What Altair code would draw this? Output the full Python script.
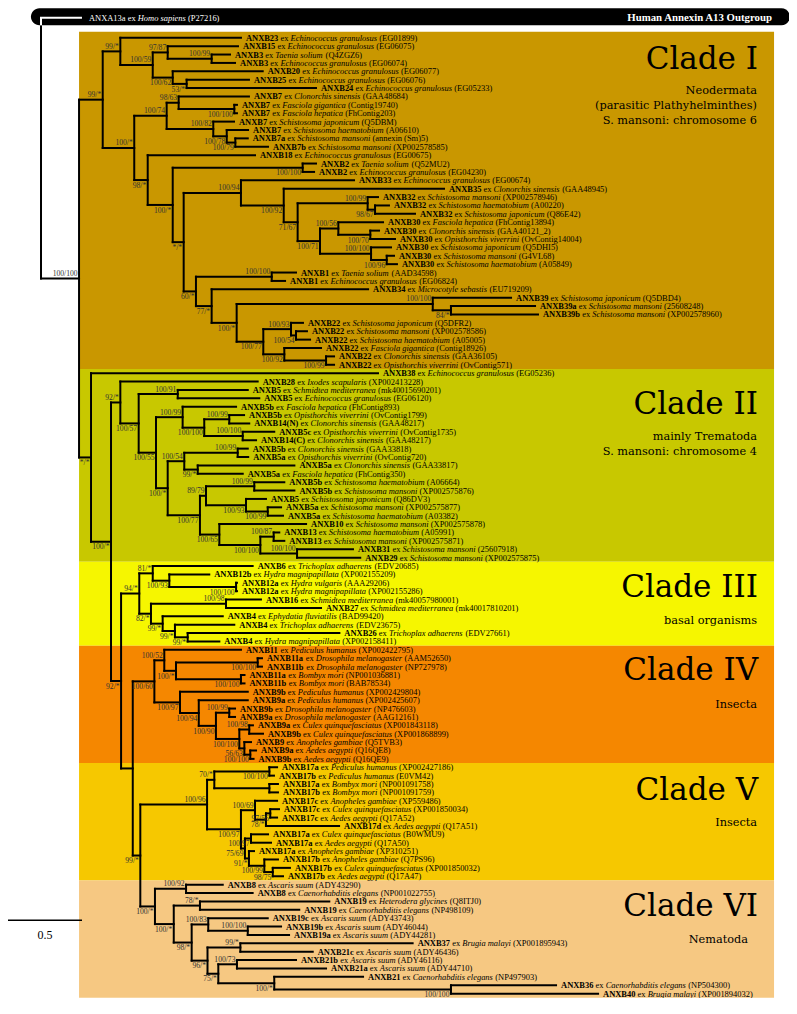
import altair as alt
import pandas as pd

# ---------------- data ----------------
LEAF_NAME = [
    "ANXB23", "ANXB15", "ANXB3", "ANXB3", "ANXB20", "ANXB25", "ANXB24", "ANXB7", "ANXB7", "ANXB7",
    "ANXB7", "ANXB7", "ANXB7a", "ANXB7b", "ANXB18", "ANXB2", "ANXB2", "ANXB33", "ANXB35", "ANXB32",
    "ANXB32", "ANXB32", "ANXB30", "ANXB30", "ANXB30", "ANXB30", "ANXB30", "ANXB30", "ANXB1", "ANXB1",
    "ANXB34", "ANXB39", "ANXB39a", "ANXB39b", "ANXB22", "ANXB22", "ANXB22", "ANXB22", "ANXB22", "ANXB22",
    "ANXB38", "ANXB28", "ANXB5", "ANXB5", "ANXB5b", "ANXB5b", "ANXB14(N)", "ANXB5c", "ANXB14(C)", "ANXB5b",
    "ANXB5a", "ANXB5a", "ANXB5a", "ANXB5b", "ANXB5b", "ANXB5", "ANXB5a", "ANXB5a", "ANXB10", "ANXB13",
    "ANXB13", "ANXB31", "ANXB29",
    "ANXB6", "ANXB12b", "ANXB12a", "ANXB12a", "ANXB16", "ANXB27", "ANXB4", "ANXB4", "ANXB26", "ANXB4",
    "ANXB11", "ANXB11a", "ANXB11b", "ANXB11a", "ANXB11b", "ANXB9b", "ANXB9a", "ANXB9b", "ANXB9a", "ANXB9a",
    "ANXB9b", "ANXB9", "ANXB9a", "ANXB9b",
    "ANXB17a", "ANXB17b", "ANXB17a", "ANXB17b", "ANXB17c", "ANXB17c", "ANXB17c", "ANXB17d", "ANXB17a", "ANXB17a",
    "ANXB17a", "ANXB17b", "ANXB17b", "ANXB17b",
    "ANXB8", "ANXB8", "ANXB19", "ANXB19", "ANXB19c", "ANXB19b", "ANXB19a", "ANXB37", "ANXB21c", "ANXB21b",
    "ANXB21a", "ANXB21", "ANXB36", "ANXB40",
]
LEAF_SPECIES = [
    "Echinococcus granulosus", "Echinococcus granulosus", "Taenia solium", "Echinococcus granulosus",
    "Echinococcus granulosus", "Echinococcus granulosus", "Echinococcus granulosus", "Clonorchis sinensis",
    "Fasciola gigantica", "Fasciola hepatica", "Schistosoma japonicum", "Schistosoma haematobium",
    "Schistosoma mansoni", "Schistosoma mansoni", "Echinococcus granulosus", "Taenia solium",
    "Echinococcus granulosus", "Echinococcus granulosus", "Clonorchis sinensis", "Schistosoma mansoni",
    "Schistosoma haematobium", "Schistosoma japonicum", "Fasciola hepatica", "Clonorchis sinensis",
    "Opisthorchis viverrini", "Schistosoma japonicum", "Schistosoma mansoni", "Schistosoma haematobium",
    "Taenia solium", "Echinococcus granulosus", "Microcotyle sebastis", "Schistosoma japonicum",
    "Schistosoma mansoni", "Schistosoma mansoni", "Schistosoma japonicum", "Schistosoma mansoni",
    "Schistosoma haematobium", "Fasciola gigantica", "Clonorchis sinensis", "Opisthorchis viverrini",
    "Echinococcus granulosus", "Ixodes scapularis", "Schmidtea mediterranea", "Echinococcus granulosus",
    "Fasciola hepatica", "Opisthorchis viverrini", "Clonorchis sinensis", "Opisthorchis viverrini",
    "Clonorchis sinensis", "Clonorchis sinensis", "Opisthorchis viverrini", "Clonorchis sinensis",
    "Fasciola hepatica", "Schistosoma haematobium", "Schistosoma mansoni", "Schistosoma japonicum",
    "Schistosoma mansoni", "Schistosoma haematobium", "Schistosoma mansoni", "Schistosoma haematobium",
    "Schistosoma mansoni", "Schistosoma mansoni", "Schistosoma mansoni",
    "Trichoplax adhaerens", "Hydra magnipapillata", "Hydra vulgaris", "Hydra magnipapillata",
    "Schmidtea mediterranea", "Schmidtea mediterranea", "Ephydatia fluviatilis", "Trichoplax adhaerens",
    "Trichoplax adhaerens", "Hydra magnipapillata",
    "Pediculus humanus", "Drosophila melanogaster", "Drosophila melanogaster", "Bombyx mori", "Bombyx mori",
    "Pediculus humanus", "Pediculus humanus", "Drosophila melanogaster", "Drosophila melanogaster",
    "Culex quinquefasciatus", "Culex quinquefasciatus", "Anopheles gambiae", "Aedes aegypti", "Aedes aegypti",
    "Pediculus humanus", "Pediculus humanus", "Bombyx mori", "Bombyx mori", "Anopheles gambiae",
    "Culex quinquefasciatus", "Aedes aegypti", "Aedes aegypti", "Culex quinquefasciatus", "Aedes aegypti",
    "Anopheles gambiae", "Anopheles gambiae", "Culex quinquefasciatus", "Aedes aegypti",
    "Ascaris suum", "Caenorhabditis elegans", "Heterodera glycines", "Caenorhabditis elegans", "Ascaris suum",
    "Ascaris suum", "Ascaris suum", "Brugia malayi", "Ascaris suum", "Ascaris suum", "Ascaris suum",
    "Caenorhabditis elegans", "Caenorhabditis elegans", "Brugia malayi",
]
LEAF_ACC = [
    "EG01899", "EG06075", "Q4ZGZ6", "EG06074", "EG06077", "EG06076", "EG05233", "GAA48684", "Contig19740",
    "FhContig203", "Q5DBM", "A06610", "annexin (Sm)5", "XP002578585", "EG00675", "Q52MU2", "EG04230",
    "EG00674", "GAA48945", "XP002578946", "A00220", "Q86E42", "FhContig13894", "GAA40121_2", "OvContig14004",
    "Q5DHI5", "G4VL68", "A05849", "AAD34598", "EG06824", "EU719209", "Q5DBD4", "25608248", "XP002578960",
    "Q5DFR2", "XP002578586", "A05005", "Contig18926", "GAA36105", "OvContig571",
    "EG05236", "XP002413228", "mk40015690201", "EG06120", "FhContig893", "OvContig1799", "GAA48217",
    "OvContig1735", "GAA48217", "GAA33818", "OvContig720", "GAA33817", "FhContig350", "A06664",
    "XP002575876", "Q86DV3", "XP002575877", "A03382", "XP002575878", "A05991", "XP002575871", "25607918",
    "XP002575875",
    "EDV20685", "XP002155209", "AAA29206", "XP002155286", "mk40057980001", "mk40017810201", "BAD99420",
    "EDV23675", "EDV27661", "XP002158411",
    "XP002422795", "AAM52650", "NP727978", "NP001036881", "BAB78534", "XP002429804", "XP002425607",
    "NP476603", "AAG12161", "XP001843118", "XP001868899", "Q5TVB3", "Q16QE8", "Q16QE9",
    "XP002427186", "E0VM42", "NP001091758", "NP001091759", "XP559486", "XP001850034", "Q17A52", "Q17A51",
    "B0WMU9", "Q17A50", "XP310251", "Q7PS96", "XP001850032", "Q17A47",
    "ADY43290", "NP001022755", "Q8ITJ0", "NP498109", "ADY43743", "ADY46044", "ADY44281", "XP001895943",
    "ADY46436", "ADY46116", "ADY44710", "NP497903", "NP504300", "XP001894032",
]
# cumulative distance from the root (substitutions / site) of every tip
LEAF_TIP = [
    1.351, 1.331, 1.277, 1.311, 1.498, 1.405, 1.858, 1.405, 1.324, 1.324,
    1.304, 1.399, 1.397, 1.534, 1.446, 1.858, 1.845, 2.115, 2.723, 2.277,
    2.351, 2.527, 2.311, 2.284, 2.392, 2.365, 2.385, 2.405, 1.723, 1.649,
    2.210, 3.176, 3.338, 3.358, 1.770, 1.797, 1.818, 1.892, 1.980, 1.980,
    2.277, 1.464, 1.397, 1.475, 1.318, 1.372, 1.407, 1.576, 1.453, 1.397,
    1.400, 1.712, 1.363, 1.644, 1.712, 1.520, 1.622, 1.635, 1.791, 1.610,
    1.644, 2.108, 2.157,
    1.430, 1.137, 1.324, 1.324, 1.486, 1.892, 1.228, 1.306, 2.016, 1.205,
    1.351, 1.493, 1.493, 1.375, 1.375, 1.397, 1.397, 1.311, 1.311, 1.432,
    1.500, 1.419, 1.453, 1.436,
    1.595, 1.574, 1.601, 1.601, 1.595, 1.608, 1.595, 2.014, 1.534, 1.554,
    1.439, 1.601, 1.682, 1.635,
    1.228, 1.430, 1.948, 1.745, 1.532, 1.622, 1.676, 2.511, 1.836, 1.723,
    1.926, 2.176, 3.480, 3.764,
]
OUT_NAME, OUT_SPECIES, OUT_ACC = "ANXA13a", "Homo sapiens", "P27216"
OUT_TIP = 0.270
OUT_ROW = -2.38

# internal nodes: id, depth from root, support label, label side (a = above, b = below)
NODE_ID = [
    "root", "ing", "c1", "A", "C", "D", "F", "E", "G", "B", "H", "I", "K", "J", "L", "M", "N", "O", "Q",
    "R", "S", "U", "V", "W", "W2", "X", "Y", "Y2", "Z", "Z2", "T", "P1", "AA", "AB", "AC2", "AC3", "AD",
    "P93", "P54", "P92", "P99",
    "rest", "n110", "n92a", "n57", "n91", "n55", "n99a", "n100a", "n99b", "n100b", "nstar", "n54", "n99c",
    "n99s", "n77", "n8979", "n99d", "n93", "n99e", "n65", "n100c", "n87", "n100d",
    "n92b", "n94", "n81", "n93c", "n100cc", "n82", "n98", "n99x", "n99y", "n99z",
    "n131", "n60", "n52", "ns4", "ndros", "nbom", "n97", "n94b", "n90", "nd9", "n100e", "ncu", "n5663", "nae",
    "n99v", "n96", "n70", "np17", "nb17", "nvl", "n69", "n78v", "n9756", "n7569", "np97", "n91v", "n99v2",
    "n9875",
    "nc6", "n8", "ns6", "n786", "n986", "n83", "n19ba", "n96b", "n996", "n756", "n73", "ns6b", "n3640",
]
NODE_DEPTH = [
    0.000, 0.257, 0.417, 0.536, 0.755, 0.856, 1.153, 0.890, 0.984, 0.630, 0.849, 0.930, 1.306, 1.164, 1.255,
    1.313, 0.721, 0.890, 1.768, 0.964, 1.351, 1.640, 1.734, 2.207, 2.257, 1.885, 2.009, 2.225, 2.230, 2.336,
    1.047, 1.559, 1.153, 1.322, 2.647, 2.770, 1.502, 1.689, 1.723, 1.644, 1.926,
    0.338, 0.473, 0.536, 0.660, 0.924, 0.777, 0.957, 1.103, 1.272, 1.363, 0.856, 0.968, 1.329,
    1.059, 1.074, 1.115, 1.441, 1.385, 1.532, 1.205, 1.482, 1.572, 1.730,
    0.541, 0.664, 0.755, 0.867, 1.318, 0.743, 1.250, 0.822, 0.905, 0.991,
    0.620, 0.766, 0.833, 0.912, 1.464, 1.351, 0.939, 1.066, 1.182, 1.272, 1.340, 1.407, 1.374, 1.414,
    0.671, 1.122, 1.171, 1.543, 1.543, 1.351, 1.446, 1.520, 1.549, 1.378, 1.419, 1.405, 1.509, 1.566,
    0.770, 0.980, 0.897, 1.074, 1.018, 1.130, 1.397, 1.125, 1.347, 1.198, 1.324, 1.576, 2.770,
]
NODE_SUPPORT = [
    "", "100/100", "99/*", "99/*", "100/59", "97/87", "100/99", "100/62", "53/*", "100/*", "100/74", "98/63",
    "100/100", "100/82", "100/78", "100/79", "98/*", "100/*", "100/100", "*/*", "100/94", "100/92", "71/67",
    "100/99", "98/67", "100/71", "100/56", "100/70", "100/100", "100/96", "60/*", "100/100", "77/*", "100/*",
    "100/100", "84/*", "100/77", "100/93", "100/54", "100/92", "100/99",
    "*/*", "100/*", "92/*", "100/57", "100/91", "100/55", "100/99", "100/100", "100/99", "100/100", "100/*",
    "100/54", "100/99", "99/*", "100/77", "89/79", "100/99", "100/93", "100/99", "100/65", "100/100",
    "100/87", "100/100",
    "92/*", "94/*", "81/*", "100/93", "100/100", "82/*", "100/98", "99/*", "99/*", "99/*",
    "", "100/60", "100/52", "100/*", "100/100", "100/100", "100/97", "100/94", "100/90", "100/99", "100/100",
    "100/98", "56/63", "100/100",
    "99/*", "100/96", "70/*", "100/100", "", "100/97", "100/69", "78/*", "97/56", "75/69", "100/97", "91/*",
    "100/99", "98/75",
    "100/*", "100/92", "100/*", "78/*", "98/*", "100/83", "100/100", "96/*", "99/*", "75/*", "100/73",
    "100/*", "100/100",
]
NODE_SIDE = [
    "", "a", "a", "a", "a", "a", "a", "b", "b", "a", "a", "a", "b", "a", "b", "b", "b", "b", "b",
    "b", "a", "b", "b", "a", "b", "b", "a", "b", "a", "b", "b", "a", "b", "b", "a", "b", "b",
    "a", "b", "b", "b",
    "b", "b", "a", "b", "a", "b", "a", "b", "a", "a", "b", "a", "a",
    "b", "b", "a", "a", "b", "b", "b", "b", "a", "a",
    "b", "a", "a", "b", "b", "b", "a", "b", "b", "b",
    "", "b", "a", "b", "b", "b", "b", "b", "b", "a", "b", "a", "b", "b",
    "b", "a", "a", "b", "", "b", "a", "b", "b", "b", "b", "b", "b", "b",
    "b", "a", "b", "a", "b", "a", "a", "b", "a", "b", "a", "b", "b",
]

# topology (leaf numbers 1..115 in drawing order)
W_ = ("W", [20, ("W2", [21, 22])])
X_ = ("X", [("Y", [23, ("Y2", [24, 25])]), ("Z", [26, ("Z2", [27, 28])])])
S_ = ("S", [18, ("U", [19, ("V", [W_, X_])])])
AD_ = ("AD", [("P93", [35, ("P54", [36, 37])]), ("P92", [38, ("P99", [39, 40])])])
AB_ = ("AB", [("AC2", [32, ("AC3", [33, 34])]), AD_])
T_ = ("T", [("P1", [29, 30]), ("AA", [31, AB_])])
N_ = ("N", [15, ("O", [("Q", [16, 17]), ("R", [S_, T_])])])
H_ = ("H", [("I", [8, ("K", [9, 10])]), ("J", [11, ("L", [12, ("M", [13, 14])])])])
A_ = ("A", [1, ("C", [("D", [2, ("F", [3, 4])]), ("E", [5, ("G", [6, 7])])])])
CLADE1 = ("c1", [A_, ("B", [H_, N_])])

N99A = ("n99a", [45, ("n100a", [("n99b", [46, 47]), ("n100b", [48, 49])])])
N54 = ("n54", [("n99c", [50, 51]), ("n99s", [52, 53])])
N8979 = ("n8979", [("n99d", [54, 55]), ("n93", [56, ("n99e", [57, 58])])])
N65 = ("n65", [59, ("n100c", [("n87", [60, 61]), ("n100d", [62, 63])])])
N55 = ("n55", [N99A, ("nstar", [N54, ("n77", [N8979, N65])])])
CLADE2 = ("n92a", [42, ("n57", [("n91", [43, 44]), N55])])

N81 = ("n81", [64, ("n93c", [65, ("n100cc", [66, 67])])])
N99X = ("n99x", [70, ("n99y", [71, ("n99z", [72, 73])])])
CLADE3 = ("n94", [N81, ("n82", [("n98", [68, 69]), N99X])])

N52 = ("n52", [74, ("ns4", [("ndros", [75, 76]), ("nbom", [77, 78])])])
N100E = ("n100e", [("ncu", [83, 84]), ("n5663", [85, ("nae", [86, 87])])])
N97 = ("n97", [79, ("n94b", [80, ("n90", [("nd9", [81, 82]), N100E])])])
CLADE4 = ("n60", [N52, N97])

N70 = ("n70", [("np17", [88, 89]), ("nb17", [90, 91])])
N69 = ("n69", [92, ("n78v", [("n9756", [93, 94]), 95])])
N91V = ("n91v", [98, ("n99v2", [99, ("n9875", [100, 101])])])
N7569 = ("n7569", [("np97", [96, 97]), N91V])
CLADE5 = ("n96", [N70, ("nvl", [N69, N7569])])

N83 = ("n83", [106, ("n19ba", [107, 108])])
N756 = ("n756", [("n73", [111, 112]), ("ns6b", [113, ("n3640", [114, 115])])])
N986 = ("n986", [N83, ("n96b", [("n996", [109, 110]), N756])])
CLADE6 = ("nc6", [("n8", [102, 103]), ("ns6", [("n786", [104, 105]), N986])])

TREE = ("root", ["OUT", ("ing", [CLADE1, ("rest", [41, ("n110", [CLADE2, ("n92b", [
    CLADE3, ("n131", [CLADE4, ("n99v", [CLADE5, CLADE6])])])])])])])

CLADE_TOP = [-0.72, 39.5, 62.5, 72.5, 86.5, 100.5]
CLADE_BOTTOM = [39.5, 62.5, 72.5, 86.5, 100.5, 114.5]
CLADE_COLOR = ["#C99700", "#C8C800", "#F6F600", "#F58700", "#F6C800", "#F6C882"]
CLADE_TITLE = ["Clade I", "Clade II", "Clade III", "Clade IV", "Clade V", "Clade VI"]
CLADE_TITLE_ROW = [3.72, 44.86, 66.75, 76.6, 90.86, 104.7]
SUB_TEXT = ["Neodermata", "(parasitic Plathyhelminthes)", "S. mansoni: chromosome 6",
            "mainly Trematoda", "S. mansoni: chromosome 4", "basal organisms", "Insecta", "Insecta",
            "Nematoda"]
SUB_ROW = [6.30, 8.14, 9.89, 47.56, 49.44, 69.6, 79.57, 93.64, 107.6]
SUB_X = [4.838, 4.838, 4.838, 4.838, 4.838, 4.838, 4.838, 4.838, 4.777]
TITLE_X = 4.845
BAND_X = [0.257, 4.953]
BAR_X = [-0.068, 5.06]
BAR_ROWS = [-3.51, -1.48]
BAR_TITLE = "Human Annexin A13 Outgroup"
BAR_TITLE_X = 4.939
SCALE_LEN = 0.5
SCALE_ROW = 105.24
SCALE_LABEL_ROW = 107.0

# ---------------- layout ----------------
PX = 148.0          # pixels per unit branch length
W, H = 781, 990
XMIN = -0.223
XMAX = XMIN + W / PX
YMIN, YMAX = -3.55, 114.52
FS = 8.45
GAP = 5.0

depth = dict(zip(NODE_ID, NODE_DEPTH))
support = dict(zip(NODE_ID, NODE_SUPPORT))
side = dict(zip(NODE_ID, NODE_SIDE))
node_row = {}
hseg, vseg = [], []


def child_depth(k):
    if k == "OUT":
        return OUT_TIP
    if isinstance(k, int):
        return LEAF_TIP[k - 1]
    return depth[k[0]]


def layout(t):
    if t == "OUT":
        return OUT_ROW
    if isinstance(t, int):
        return float(t - 1)
    name, kids = t
    rows = [layout(k) for k in kids]
    r = (rows[0] + rows[-1]) / 2.0
    node_row[name] = r
    vseg.append(dict(x=depth[name], y=rows[0], y2=rows[-1]))
    for k, kr in zip(kids, rows):
        hseg.append(dict(x=depth[name], x2=child_depth(k), y=kr, out=(k == "OUT")))
    return r


layout(TREE)


def mk(groups):
    d = {}
    for w, chars in groups.items():
        for c in chars:
            d[c] = w
    return d


REG = mk({250: " .", 278: "ijlt/:", 333: "()frI", 389: "sJ", 444: "acez",
          500: "0123456789bdghknopquvxy_*", 556: "FPS", 611: "ELTZ", 667: "BCR",
          722: "ADGHKNOQUVXYw", 778: "m", 889: "M", 944: "W"})
BOLD = mk({250: " .", 278: "il/:", 333: "()ftj", 389: "Is", 444: "cerz",
           500: "0123456789agovxyJ", 556: "bdhknpquS", 611: "FP", 667: "BELTZ",
           722: "ACDNRUVXYw", 778: "GHKOQ", 833: "m", 944: "M", 1000: "W"})
ITAL = mk({250: " .", 278: "fijlt", 333: "I()", 389: "rsz", 444: "ceJkvxy",
           500: "abdghnopquS0123456789", 556: "LTYZ", 611: "ABEFPRVX", 667: "CKNw",
           722: "DGHOQUm", 833: "MW"})


def tw(s, tab, fs):
    return sum(tab.get(c, 500) for c in s) * fs / 1000.0


def segments(name, sp, acc, tip, row, gap, name_style, color):
    out = []
    parts = [(name, name_style, BOLD if name_style == "bold" else REG), ("ex", "regular", REG),
             (sp, "italic", ITAL), ("(" + acc + ")", "regular", REG)]
    off = 0.0
    for txt, sty, tab in parts:
        out.append(dict(x=tip + (gap + off) / PX, y=row, text=txt, style=sty, color=color))
        off += tw(txt, tab, FS) + tw(" ", REG, FS)
    return out


segs = []
for i in range(len(LEAF_NAME)):
    segs += segments(LEAF_NAME[i], LEAF_SPECIES[i], LEAF_ACC[i], LEAF_TIP[i], float(i), GAP, "bold", "black")
segs += segments(OUT_NAME, OUT_SPECIES, OUT_ACC, OUT_TIP, OUT_ROW, 8.0, "regular", "white")
seg_df = pd.DataFrame(segs)

boot = []
for nid in NODE_ID:
    if support[nid]:
        off = -0.55 if side[nid] == "a" else 0.68
        boot.append(dict(x=depth[nid], y=node_row[nid] + off, text=support[nid]))
boot_df = pd.DataFrame(boot)

hdf = pd.DataFrame(hseg)
vdf = pd.DataFrame(vseg)
bands = pd.DataFrame(dict(x=[BAND_X[0]] * 6, x2=[BAND_X[1]] * 6, y=CLADE_TOP, y2=CLADE_BOTTOM, c=CLADE_COLOR))
titles = pd.DataFrame(dict(x=[TITLE_X] * 6, y=CLADE_TITLE_ROW, text=CLADE_TITLE))
subs = pd.DataFrame(dict(x=SUB_X, y=SUB_ROW, text=SUB_TEXT))
bar = pd.DataFrame(dict(x=[BAR_X[0]], x2=[BAR_X[1]], y=[BAR_ROWS[0]], y2=[BAR_ROWS[1]]))
bar_title = pd.DataFrame(dict(x=[BAR_TITLE_X], y=[OUT_ROW], text=[BAR_TITLE]))
white_v = pd.DataFrame(dict(x=[0.0], y=[OUT_ROW], y2=[BAR_ROWS[1]]))
scale_df = pd.DataFrame(dict(x=[XMIN], x2=[XMIN + SCALE_LEN], y=[SCALE_ROW]))
scale_lab = pd.DataFrame(dict(x=[XMIN + SCALE_LEN / 2], y=[SCALE_LABEL_ROW], text=[str(SCALE_LEN)]))

XS = alt.Scale(domain=[XMIN, XMAX], nice=False, zero=False)
YS = alt.Scale(domain=[YMIN, YMAX], nice=False, zero=False, reverse=True)
ex = alt.X("x:Q", scale=XS, axis=None)
ey = alt.Y("y:Q", scale=YS, axis=None)
ex2 = alt.X2("x2:Q")
ey2 = alt.Y2("y2:Q")

LW = 2.0
layers = [
    alt.Chart(bands).mark_rect().encode(x=ex, x2=ex2, y=ey, y2=ey2, color=alt.Color("c:N", scale=None)),
    alt.Chart(bar).mark_rect(color="black", cornerRadius=9).encode(x=ex, x2=ex2, y=ey, y2=ey2),
    alt.Chart(hdf).mark_rule(color="black", strokeWidth=LW, strokeCap="square").encode(x=ex, x2=ex2, y=ey),
    alt.Chart(vdf).mark_rule(color="black", strokeWidth=LW, strokeCap="square").encode(x=ex, y=ey, y2=ey2),
    alt.Chart(hdf).transform_filter("datum.out").mark_rule(color="white", strokeWidth=LW, strokeCap="square")
    .encode(x=ex, x2=ex2, y=ey),
    alt.Chart(white_v).mark_rule(color="white", strokeWidth=LW).encode(x=ex, y=ey, y2=ey2),
    alt.Chart(scale_df).mark_rule(color="black", strokeWidth=1.5).encode(x=ex, x2=ex2, y=ey),
    alt.Chart(scale_lab).mark_text(font="Liberation Serif", fontSize=12, align="center", baseline="middle",
                                   color="black").encode(x=ex, y=ey, text="text:N"),
]
for sty, weight, fstyle in [("bold", "bold", "normal"), ("regular", "normal", "normal"),
                            ("italic", "normal", "italic")]:
    layers.append(
        alt.Chart(seg_df).transform_filter(alt.datum.style == sty)
        .mark_text(font="Liberation Serif", fontSize=FS, fontWeight=weight, fontStyle=fstyle,
                   align="left", baseline="middle")
        .encode(x=ex, y=ey, text="text:N", color=alt.Color("color:N", scale=None))
    )
layers += [
    alt.Chart(boot_df).mark_text(font="Liberation Serif", fontSize=7.6, align="right", baseline="middle",
                                 dx=-1.5, color="#333333").encode(x=ex, y=ey, text="text:N"),
    alt.Chart(titles).mark_text(font="DejaVu Serif", fontSize=31, align="right", baseline="alphabetic",
                                color="black").encode(x=ex, y=ey, text="text:N"),
    alt.Chart(subs).mark_text(font="DejaVu Serif", fontSize=11.3, align="right", baseline="middle",
                              color="black").encode(x=ex, y=ey, text="text:N"),
    alt.Chart(bar_title).mark_text(font="Liberation Serif", fontSize=10.8, fontWeight="bold", align="right",
                                   baseline="middle", color="white").encode(x=ex, y=ey, text="text:N"),
]

chart = alt.layer(*layers).properties(
    width=W, height=H, padding=0, autosize=alt.AutoSizeParams(type="none")
).configure_view(stroke=None)

chart.save("out.html", embed_options={"renderer": "svg", "actions": False})
